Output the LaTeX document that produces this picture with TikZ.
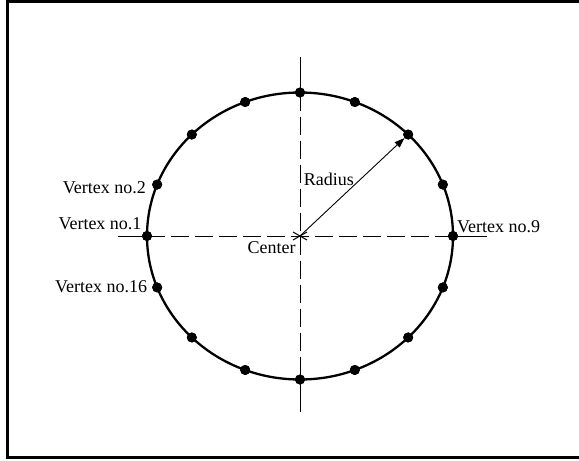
\documentclass[tikz,border=0pt]{standalone}
\usepackage{fontspec}
\setmainfont{Liberation Serif}
\usetikzlibrary{arrows.meta}
\begin{document}
\begin{tikzpicture}[x=1pt,y=-1pt,
  frame/.style={line width=3pt},
  rim/.style={line width=2.3pt},
  axis/.style={line width=1pt},
  axisdash/.style={line width=1pt,dash pattern=on 18pt off 6pt},
  vtx/.style={circle,fill=black,inner sep=0pt,minimum size=10pt},
  lbl/.style={inner sep=0pt,anchor=base west,font=\fontsize{18}{20}\selectfont}]
\useasboundingbox (0,0) rectangle (579,461);
% frame
\draw[frame] (581,1.5) -- (7.5,1.5) -- (7.5,457.5) -- (581,457.5);
% centre and vertices
\coordinate (C) at (300,236);
\foreach \k/\a in {1/180,2/159,3/135,4/111,5/90,6/69,7/45,8/21,9/0,10/-21,11/-45,12/-69,13/-90,14/-111,15/-135,16/-159}
  \node[vtx] (v\k) at ({300+153*cos(\a)},{236-143.5*sin(\a)}) {};
% axes
\coordinate (hl) at (118,236);
\coordinate (hr) at (487,236);
\coordinate (vt) at (300,57);
\coordinate (vb) at (300,412);
\draw[axis] (hl) -- (v1.center);
\draw[axisdash] (v1.center) -- (v9.center);
\draw[axis] (v9.center) -- (hr);
\draw[axis] (vt) -- (v5.center);
\draw[axisdash] (v5.center) -- (v13.center);
\draw[axis] (v13.center) -- (vb);
% centre mark
\draw[axis] ([shift={(-7,-4)}]C) -- ([shift={(7,4)}]C);
\draw[axis] ([shift={(-7,4)}]C) -- ([shift={(7,-4)}]C);
% circle
\draw[rim] (C) ellipse [x radius=153, y radius=143.5];
% redraw vertices on top
\foreach \k/\a in {1/180,2/159,3/135,4/111,5/90,6/69,7/45,8/21,9/0,10/-21,11/-45,12/-69,13/-90,14/-111,15/-135,16/-159}
  \fill ({300+153*cos(\a)},{236-143.5*sin(\a)}) circle [radius=5];
% radius arrow
\draw[line width=0.9pt,-{Triangle[length=10pt,width=7pt]}] (C) -- (v7);
% labels
\node[lbl] (l2) at (62.7,193) {Vertex no.2};
\node[lbl] (l1) at (58.3,229.5) {Vertex no.1};
\node[lbl] (l16) at (55,292.5) {Vertex no.16};
\node[lbl] (l9) at (457,232.5) {Vertex no.9};
\node[lbl] (lc) at (247.5,253.5) {Center};
\node[lbl] (lr) at (303.7,185.5) {Radius};
\end{tikzpicture}
\end{document}
